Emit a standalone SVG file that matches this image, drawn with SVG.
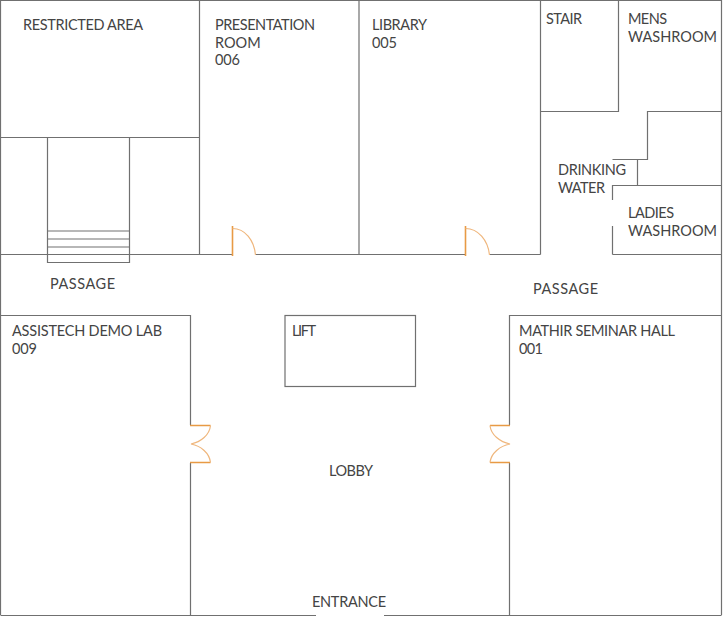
<svg xmlns="http://www.w3.org/2000/svg" width="723" height="618" viewBox="0 0 723 618">
<style>
.w{fill:none;stroke:#707070;stroke-width:1.2}
.d{fill:none;stroke:#efb67c;stroke-width:1.2}
.j{fill:none;stroke:#e89a45;stroke-width:1.6}
text{font-family:"Lato","Liberation Sans",sans-serif;font-size:14.5px;fill:#444}
</style>
<rect width="723" height="618" fill="#fff"/>
<g id="connectors">
<path class="w" d="M0.500 615V0.500H721.500V615M0.500 615.500H316M384 615.500H721.500"/>
<path class="w" d="M0.500 137.500H199.500M199.500 0V254.500M359 0V254.500M540.500 0V254.500"/>
<path class="w" d="M0.500 254.500H232M256 254.500H465M490 254.500H540.500M612.500 254.500H721.500"/>
<path class="w" d="M540.500 111.500H618.500V0M721.500 111.500H647.500V159.500H612.500M637.500 159.500V185.500M612.500 200V185.500H721.500M612.500 226V254.500"/>
<path class="w" d="M0.500 315.500H190.500V425M190.500 463V615.500M721.500 315.500H509.500V425M509.500 463V615.500"/>
</g>
<g id="stairs"><path class="w" d="M47.500 137.500V262.500H129.500V137.500M47.500 231H129.500M47.500 239H129.500M47.500 247H129.500"/></g>
<g id="lift"><rect class="w" x="285" y="315.500" width="130.500" height="71"/><text x="292" y="336" textLength="24">LIFT</text></g>
<g id="door-006"><path class="j" d="M232.500 226V256"/><path class="d" d="M232.500 228.500C245 228.500 254 240 255.500 255"/></g>
<g id="door-005"><path class="j" d="M465.500 226V256"/><path class="d" d="M465.500 228.500C478 228.500 488 240 489.500 255"/></g>
<g id="door-009"><path class="j" d="M190 425.500H210.500M190 462.500H210.500"/><path class="d" d="M210.500 425.500C209.500 435 201 442 191 444C201 446 209.500 453 210.500 462.500"/></g>
<g id="door-001"><path class="j" d="M510 425.500H490M510 462.500H490"/><path class="d" d="M490 425.500C491 435 500 442 510 444C500 446 491 453 490 462.500"/></g>
<g id="restricted-area"><text x="23" y="30" textLength="120">RESTRICTED AREA</text></g>
<g id="presentation-room"><text x="215" y="30" textLength="100">PRESENTATION</text><text x="215" y="48">ROOM</text><text x="215" y="65" textLength="25">006</text></g>
<g id="library"><text x="372" y="30" textLength="55">LIBRARY</text><text x="372" y="48" textLength="25">005</text></g>
<g id="stair"><text x="546" y="24" textLength="36">STAIR</text></g>
<g id="mens-washroom"><text x="628" y="24" textLength="39">MENS</text><text x="628" y="42" textLength="89">WASHROOM</text></g>
<g id="drinking-water"><text x="558" y="175" textLength="68">DRINKING</text><text x="558" y="193" textLength="47">WATER</text></g>
<g id="ladies-washroom"><text x="628" y="218" textLength="46">LADIES</text><text x="628" y="236" textLength="89">WASHROOM</text></g>
<g id="passage-left"><text x="50" y="289" textLength="65">PASSAGE</text></g>
<g id="passage-right"><text x="533" y="294" textLength="65">PASSAGE</text></g>
<g id="assistech-lab"><text x="12" y="336" textLength="150">ASSISTECH DEMO LAB</text><text x="12" y="354" textLength="25">009</text></g>
<g id="mathir-hall"><text x="519" y="336" textLength="156">MATHIR SEMINAR HALL</text><text x="519" y="354" textLength="24">001</text></g>
<g id="lobby"><text x="329" y="476" textLength="44">LOBBY</text></g>
<g id="entrance"><text x="312" y="607" textLength="74">ENTRANCE</text></g>
</svg>
